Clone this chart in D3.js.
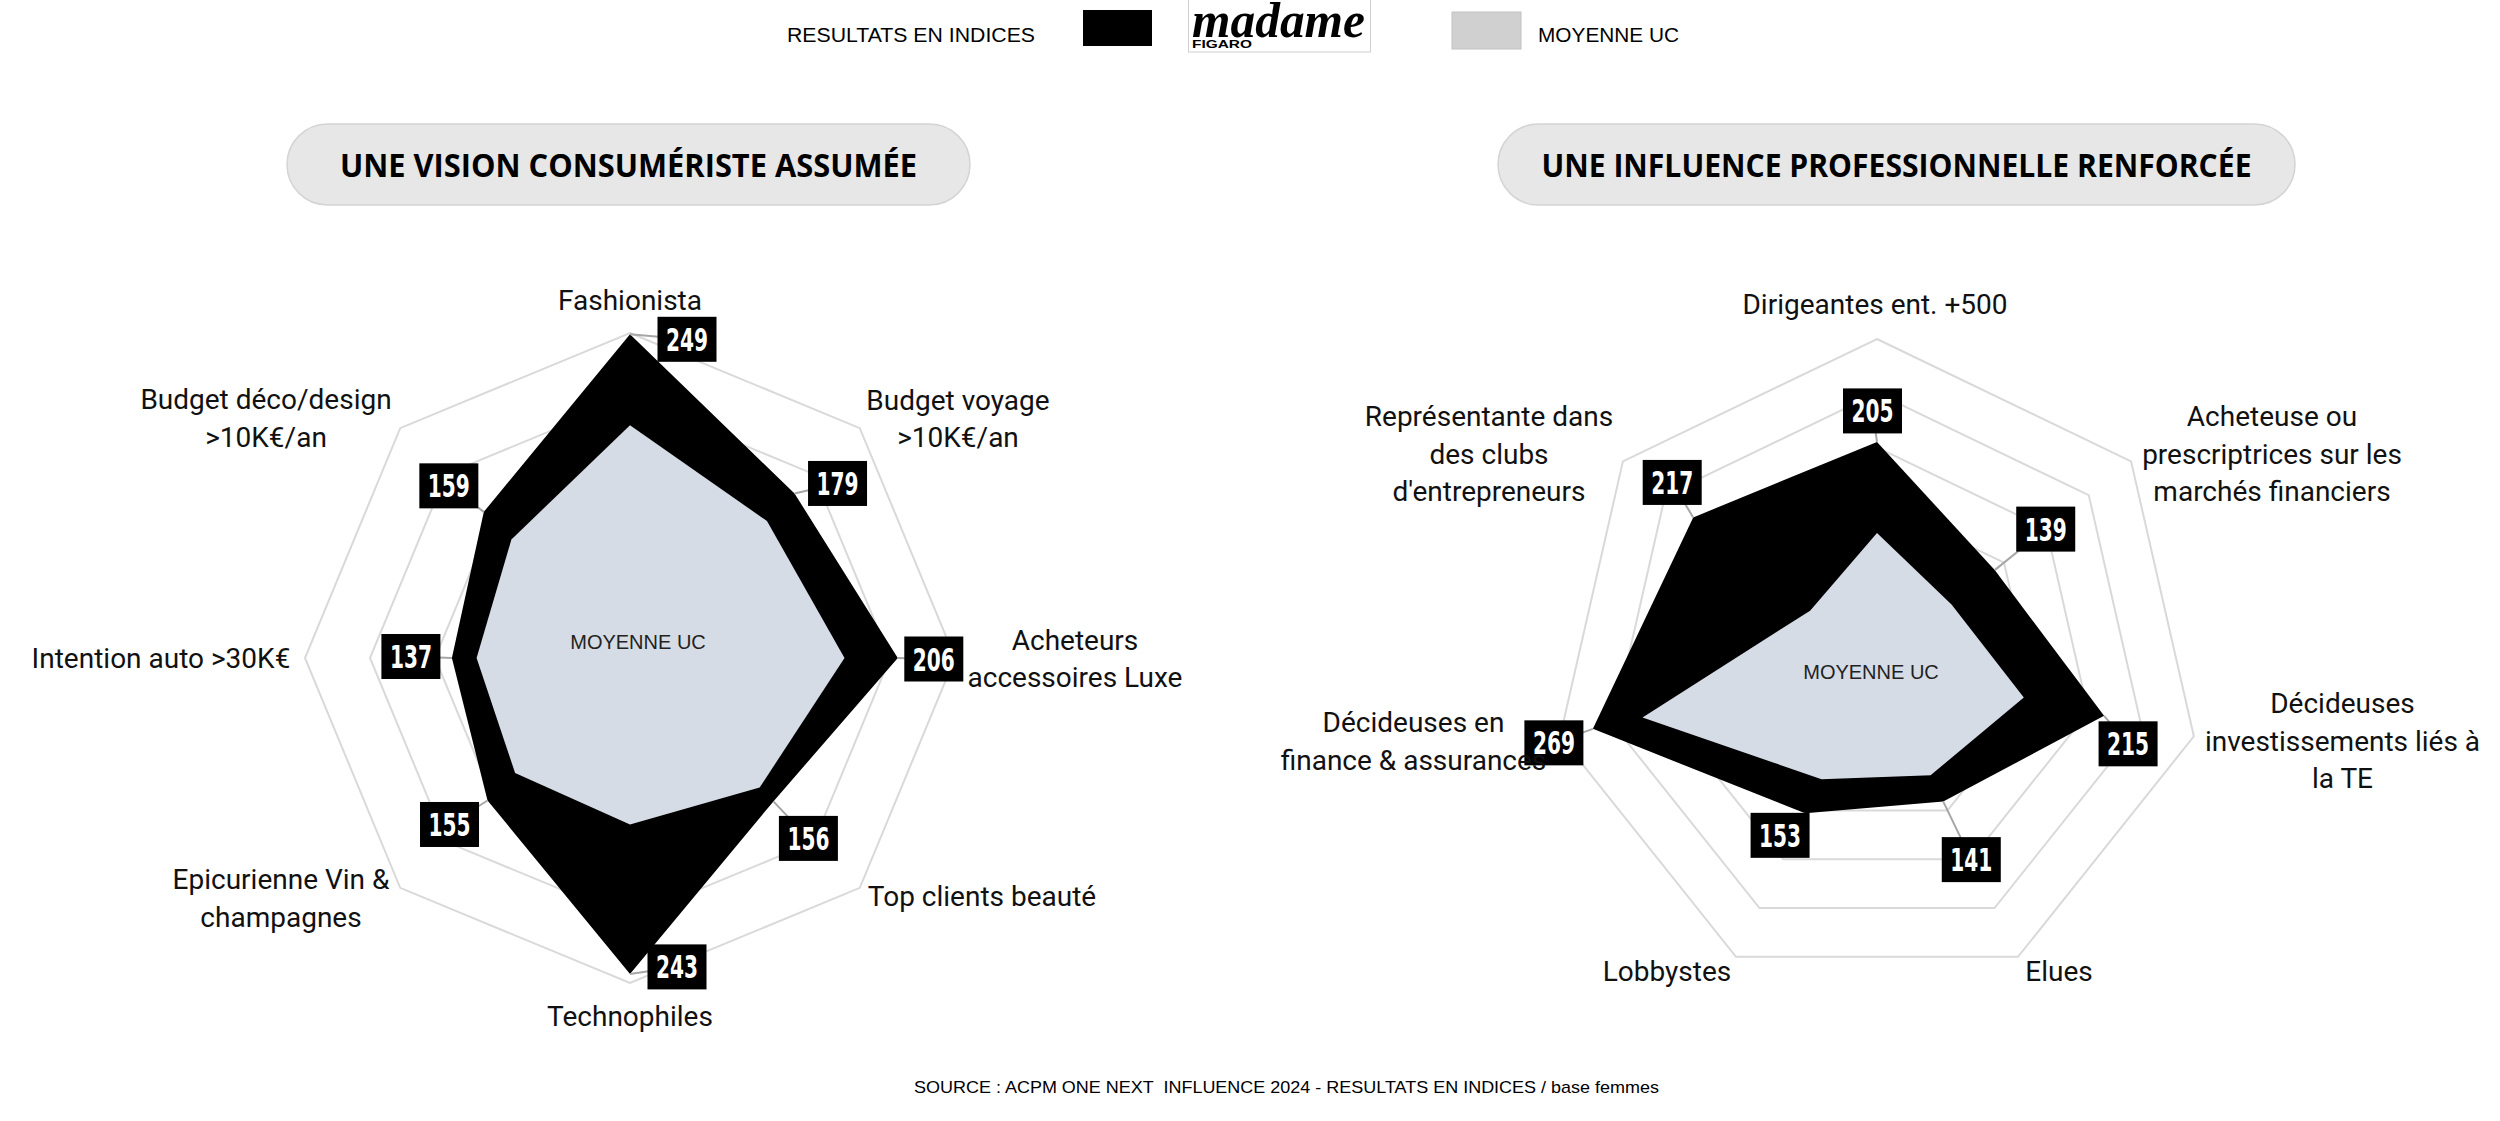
<!DOCTYPE html>
<html>
<head>
<meta charset="utf-8">
<script src="https://cdn.jsdelivr.net/npm/d3@7"></script>
<style>
  html, body { margin: 0; padding: 0; background: #ffffff; }
  svg { display: block; }
</style>
</head>
<body>
<svg id="chart" width="2500" height="1121" xmlns="http://www.w3.org/2000/svg"></svg>
<script>
// ---------------- DATA ----------------
const leftTitle = "UNE VISION CONSUMÉRISTE ASSUMÉE";
const leftCategories = [
  ["Fashionista"],
  ["Budget voyage", ">10K€/an"],
  ["Acheteurs", "accessoires Luxe"],
  ["Top clients beauté"],
  ["Technophiles"],
  ["Epicurienne Vin &", "champagnes"],
  ["Intention auto >30K€"],
  ["Budget déco/design", ">10K€/an"]
];
const leftMadame  = [249, 179, 206, 156, 243, 155, 137, 159];
const leftMoyenne = [179, 149, 165, 141, 128, 125, 118, 129];
const leftTicks   = [50, 100, 150, 200, 250];

const rightTitle = "UNE INFLUENCE PROFESSIONNELLE RENFORCÉE";
const rightCategories = [
  ["Dirigeantes ent. +500"],
  ["Acheteuse ou", "prescriptrices sur les", "marchés financiers"],
  ["Décideuses", "investissements liés à", "la TE"],
  ["Elues"],
  ["Lobbystes"],
  ["Décideuses en", "finance & assurances"],
  ["Représentante dans", "des clubs", "d'entrepreneurs"]
];
const rightMadame  = [205, 139, 215, 141, 153, 269, 217];
const rightMoyenne = [121, 88, 139, 114, 118, 222, 79];
const rightTicks   = [50, 100, 150, 200, 250, 300];

const legendLeftLabel  = "RESULTATS EN INDICES";
const legendRightLabel = "MOYENNE UC";
const centerLabel = "MOYENNE UC";
const sourceText = "SOURCE : ACPM ONE NEXT  INFLUENCE 2024 - RESULTATS EN INDICES / base femmes";

// ---------------- LAYOUT ----------------
const panels = [
  {
    title: leftTitle, cats: leftCategories, a: leftMadame, b: leftMoyenne, ticks: leftTicks,
    cx: 630, cy: 658, R: 325,
    pill: { x: 287, y: 124, w: 683, h: 81, textW: 577 },
    catPos: [[0,-358],[328,-239.5],[445,0.5],[352,238],[0,358],[-349,240],[-469,0],[-364,-240]],
    valOff: [[57,5],[43,-10],[36,1],[35,37],[47,-7],[-38,24],[-41,-1.5],[-35,-26]],
    centerOff: [8, -16]
  },
  {
    title: rightTitle, cats: rightCategories, a: rightMadame, b: rightMoyenne, ticks: rightTicks,
    cx: 1877, cy: 664, R: 325,
    pill: { x: 1498, y: 124, w: 797, h: 81, textW: 710 },
    catPos: [[-2,-360],[395,-210.5],[465.5,76.5],[182,307],[-210,307],[-463.5,77],[-388,-210.5]],
    valOff: [[-4.5,-31],[51,-41],[24,28],[28,58],[-25,22],[-39,14],[-21,-35]],
    centerOff: [-6, 8]
  }
];

const svg = d3.select("#chart");
const catFont = "Roboto, 'Noto Sans', sans-serif";
const arialFont = "'Liberation Sans', Arial, sans-serif";
const narrowFont = "'Liberation Sans Narrow', 'Arial Narrow', 'DejaVu Sans Condensed', sans-serif";

function drawPanel(p) {
  // title pill
  svg.append("rect")
    .attr("x", p.pill.x).attr("y", p.pill.y)
    .attr("width", p.pill.w).attr("height", p.pill.h)
    .attr("rx", p.pill.h / 2).attr("ry", p.pill.h / 2)
    .attr("fill", "#e7e7e7").attr("stroke", "#d4d4d4").attr("stroke-width", 1.5);
  svg.append("text")
    .attr("x", p.pill.x + p.pill.w / 2).attr("y", p.pill.y + 53)
    .attr("text-anchor", "middle")
    .attr("font-family", "'Open Sans', 'Noto Sans', sans-serif")
    .attr("font-weight", 700).attr("font-size", 32)
    .attr("textLength", p.pill.textW).attr("lengthAdjust", "spacingAndGlyphs")
    .attr("fill", "#000")
    .text(p.title);

  const g = svg.append("g").attr("transform", `translate(${p.cx},${p.cy})`);
  const n = p.cats.length;
  const angle = d3.scaleLinear().domain([0, n]).range([0, 2 * Math.PI]);
  const r = d3.scaleLinear().domain([0, d3.max(p.ticks)]).range([0, p.R]);
  const radial = d3.lineRadial()
    .angle((d, i) => angle(i))
    .radius(d => r(d))
    .curve(d3.curveLinearClosed);
  const pt = (v, i) => [r(v) * Math.sin(angle(i)), -r(v) * Math.cos(angle(i))];

  // grid
  g.selectAll("path.grid").data(p.ticks).join("path")
    .attr("class", "grid")
    .attr("d", t => radial(d3.range(n).map(() => t)))
    .attr("fill", "none").attr("stroke", "#d9d9d9").attr("stroke-width", 2);

  // series
  g.append("path").attr("d", radial(p.a)).attr("fill", "#000000");
  g.append("path").attr("d", radial(p.b)).attr("fill", "#d6dce5");

  // value labels
  const bw = 59, bh = 45;
  const lab = g.selectAll("g.val").data(p.a).join("g").attr("class", "val");
  lab.append("line")
    .attr("x1", (d, i) => pt(d, i)[0]).attr("y1", (d, i) => pt(d, i)[1])
    .attr("x2", (d, i) => pt(d, i)[0] + p.valOff[i][0])
    .attr("y2", (d, i) => pt(d, i)[1] + p.valOff[i][1])
    .attr("stroke", "#a6a6a6").attr("stroke-width", 2);
  lab.append("rect")
    .attr("x", (d, i) => pt(d, i)[0] + p.valOff[i][0] - bw / 2)
    .attr("y", (d, i) => pt(d, i)[1] + p.valOff[i][1] - bh / 2)
    .attr("width", bw).attr("height", bh)
    .attr("fill", "#000");
  lab.append("text")
    .attr("x", (d, i) => pt(d, i)[0] + p.valOff[i][0])
    .attr("y", (d, i) => pt(d, i)[1] + p.valOff[i][1] + 11.5)
    .attr("text-anchor", "middle")
    .attr("font-family", narrowFont).attr("font-weight", 700).attr("font-size", 32)
    .attr("textLength", 42).attr("lengthAdjust", "spacingAndGlyphs")
    .attr("fill", "#fff")
    .text(d => d);

  // category labels
  const L = 37.5;
  p.cats.forEach((lines, i) => {
    const [ox, oy] = p.catPos[i];
    const t = g.append("text")
      .attr("text-anchor", "middle")
      .attr("font-family", catFont).attr("font-size", 28)
      .attr("fill", "#111");
    lines.forEach((ln, j) => {
      t.append("tspan")
        .attr("x", ox)
        .attr("y", oy + (j - (lines.length - 1) / 2) * L + 10)
        .text(ln);
    });
  });

  // centre label
  g.append("text")
    .attr("x", p.centerOff[0]).attr("y", p.centerOff[1] + 7)
    .attr("text-anchor", "middle")
    .attr("font-family", arialFont).attr("font-size", 20)
    .attr("fill", "#222")
    .text(centerLabel);
}

panels.forEach(drawPanel);

// ---------------- LEGEND ----------------
svg.append("text")
  .attr("x", 787).attr("y", 42)
  .attr("font-family", arialFont).attr("font-size", 20)
  .attr("textLength", 248).attr("lengthAdjust", "spacingAndGlyphs")
  .attr("fill", "#000").text(legendLeftLabel);
svg.append("rect").attr("x", 1083).attr("y", 10).attr("width", 69).attr("height", 36).attr("fill", "#000");

// logo
svg.append("rect").attr("x", 1188.5).attr("y", -1).attr("width", 182).attr("height", 53)
  .attr("fill", "#fff").attr("stroke", "#cfcfcf").attr("stroke-width", 1);
svg.append("text")
  .attr("x", 1192).attr("y", 37)
  .attr("font-family", "'Liberation Serif', 'DejaVu Serif', serif")
  .attr("font-style", "italic").attr("font-weight", 700).attr("font-size", 50)
  .attr("textLength", 173).attr("lengthAdjust", "spacingAndGlyphs")
  .attr("fill", "#000").text("madame");
svg.append("text")
  .attr("x", 1192).attr("y", 47.5)
  .attr("font-family", arialFont).attr("font-weight", 700).attr("font-size", 10.5)
  .attr("textLength", 60).attr("lengthAdjust", "spacingAndGlyphs")
  .attr("fill", "#000").text("FIGARO");

svg.append("rect").attr("x", 1452).attr("y", 12).attr("width", 69).attr("height", 37)
  .attr("fill", "#d0d0d0").attr("stroke", "#c2c2c2").attr("stroke-width", 1);
svg.append("text")
  .attr("x", 1538).attr("y", 42)
  .attr("font-family", arialFont).attr("font-size", 20)
  .attr("textLength", 141).attr("lengthAdjust", "spacingAndGlyphs")
  .attr("fill", "#000").text(legendRightLabel);

// ---------------- SOURCE ----------------
svg.append("text")
  .attr("x", 914).attr("y", 1093)
  .attr("font-family", arialFont).attr("font-size", 17)
  .attr("textLength", 745).attr("lengthAdjust", "spacingAndGlyphs")
  .style("white-space", "pre")
  .attr("fill", "#000").text(sourceText);
</script>
</body>
</html>
